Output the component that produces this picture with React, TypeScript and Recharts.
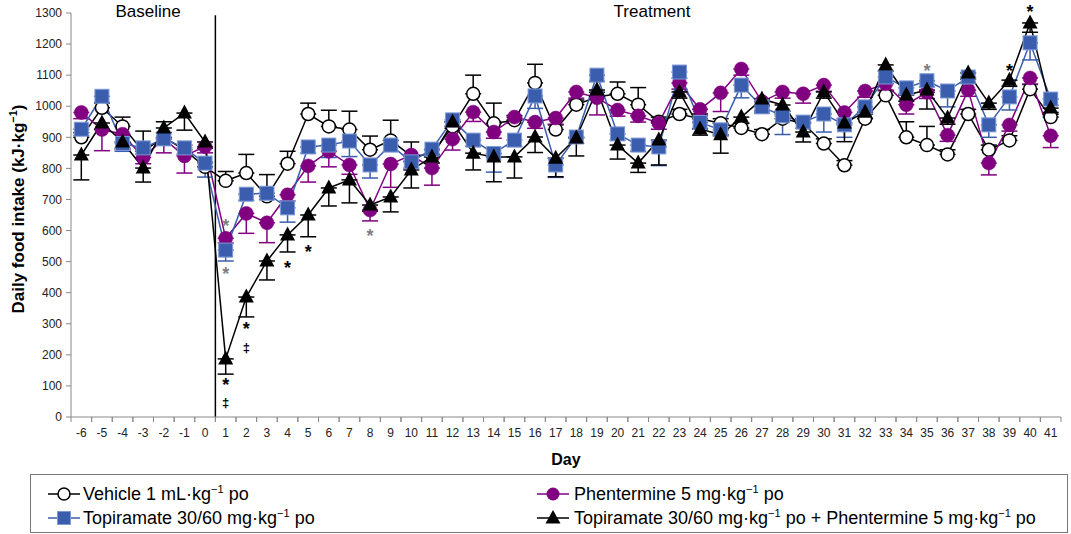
import React from 'react';
import { LineChart, Line, XAxis, YAxis, ErrorBar, ReferenceLine, ReferenceDot } from 'recharts';

// ---------------- data ----------------
const days = [-6, -5, -4, -3, -2, -1, 0, 1, 2, 3, 4, 5, 6, 7, 8, 9, 10, 11, 12, 13, 14, 15, 16, 17, 18, 19, 20, 21, 22, 23, 24, 25, 26, 27, 28, 29, 30, 31, 32, 33, 34, 35, 36, 37, 38, 39, 40, 41];

const vehicle = [900, 995, 935, 855, 900, 860, 805, 760, 785, 710, 815, 975, 935, 925, 860, 890, 840, 845, 935, 1040, 945, 955, 1075, 925, 1005, 1030, 1040, 1005, 950, 975, 960, 945, 930, 910, 960, 945, 880, 810, 960, 1035, 900, 875, 845, 975, 860, 890, 1055, 965];
const vehicleErr = [[0, 15], [0, 15], [0, 30], [0, 65], [0, 15], [0, 15], [0, 15], [0, 30], [0, 60], [0, 70], [0, 40], [0, 35], [0, 52], [0, 59], [0, 44], [0, 65], [0, 45], [0, 15], [0, 15], [0, 60], [0, 65], [0, 15], [0, 60], [0, 15], [0, 15], [0, 15], [0, 38], [0, 55], [0, 15], [0, 15], [0, 15], [0, 15], [0, 15], [0, 15], [0, 15], [0, 15], [0, 15], [0, 15], [0, 15], [0, 15], [0, 50], [0, 60], [0, 15], [0, 15], [0, 15], [0, 15], [0, 15], [0, 15]];

const phentermine = [980, 925, 910, 835, 895, 840, 870, 575, 655, 625, 715, 808, 855, 811, 666, 814, 843, 801, 894, 981, 917, 965, 949, 962, 1046, 1027, 988, 969, 946, 1075, 990, 1043, 1120, 1015, 1046, 1040, 1068, 980, 1049, 1072, 1005, 1045, 907, 1052, 817, 940, 1091, 905];
const phentermineErr = [[20, 0], [68, 0], [50, 0], [20, 0], [45, 0], [55, 0], [20, 0], [15, 0], [64, 0], [64, 0], [20, 0], [52, 0], [50, 0], [30, 0], [35, 0], [75, 0], [20, 0], [55, 0], [35, 0], [30, 0], [20, 0], [20, 0], [20, 0], [20, 0], [20, 0], [55, 0], [20, 0], [20, 0], [20, 0], [20, 0], [20, 0], [60, 0], [20, 0], [30, 0], [20, 0], [30, 0], [20, 0], [20, 0], [20, 0], [20, 0], [30, 0], [20, 0], [20, 0], [20, 0], [38, 0], [20, 0], [20, 0], [38, 0]];

const topiramate = [926, 1032, 880, 866, 895, 866, 817, 537, 717, 720, 673, 869, 875, 888, 811, 875, 821, 862, 956, 891, 848, 891, 1033, 811, 901, 1100, 911, 875, 869, 1110, 948, 924, 1068, 998, 969, 949, 975, 940, 998, 1094, 1059, 1082, 1049, 1094, 940, 1030, 1204, 1023];
const topiramateErr = [[20, 0], [20, 0], [25, 0], [20, 0], [20, 0], [20, 0], [45, 0], [35, 0], [20, 0], [20, 0], [46, 0], [20, 0], [40, 0], [50, 0], [42, 0], [20, 0], [20, 0], [20, 0], [20, 0], [20, 0], [60, 0], [20, 0], [40, 0], [40, 0], [20, 0], [20, 0], [20, 0], [20, 0], [60, 0], [20, 0], [20, 0], [20, 0], [41, 0], [20, 0], [60, 0], [20, 0], [58, 0], [40, 0], [20, 0], [20, 0], [20, 0], [20, 0], [51, 0], [20, 0], [40, 0], [42, 0], [55, 0], [20, 0]];

const combo = [843, 946, 885, 801, 930, 978, 885, 187, 386, 502, 586, 650, 737, 763, 682, 708, 795, 837, 949, 849, 837, 837, 901, 833, 898, 1052, 875, 817, 891, 1046, 927, 908, 965, 1023, 1004, 917, 1046, 946, 981, 1133, 1036, 1052, 962, 1107, 1010, 1084, 1268, 994];
const comboErr = [[80, 0], [20, 0], [20, 0], [45, 0], [0, 20], [55, 0], [20, 0], [49, 0], [64, 0], [61, 0], [55, 0], [70, 0], [58, 0], [74, 0], [20, 0], [48, 0], [58, 0], [20, 0], [20, 0], [54, 0], [80, 0], [68, 0], [50, 0], [60, 0], [58, 0], [20, 0], [45, 0], [30, 0], [80, 0], [20, 0], [20, 0], [59, 0], [20, 0], [20, 0], [20, 0], [32, 0], [20, 0], [60, 0], [20, 0], [20, 0], [20, 0], [61, 0], [20, 0], [20, 0], [20, 0], [20, 0], [30, 0], [20, 0]];

const yTicks = [0, 100, 200, 300, 400, 500, 600, 700, 800, 900, 1000, 1100, 1200, 1300];

// significance markers: day, value position (kJ/kg), symbol, colour
const annDays = [1, 1, 1, 1, 2, 2, 4, 5, 8, 35, 39, 40];
const annValues = [628, 473, 116, 42, 296, 222, 495, 544, 595, 1126, 1126, 1316];
const annSymbols = ['*', '*', '*', '‡', '*', '‡', '*', '*', '*', '*', '*', '*'];
const annColors = ['#808080', '#808080', '#000', '#000', '#000', '#000', '#000', '#000', '#808080', '#808080', '#000', '#000'];

const seriesNames = [
  'Vehicle 1 mL·kg',
  'Phentermine 5 mg·kg',
  'Topiramate 30/60 mg·kg',
  'Topiramate 30/60 mg·kg',
];

// ---------------- layout ----------------
const FONT = '"Liberation Sans", Arial, sans-serif';
const W = 1071;
const H = 470;
const MARGIN = { top: 13, right: 10, bottom: 0, left: 0 };
const Y_AXIS_W = 71;
const X_AXIS_H = 53;
const PLOT_BOTTOM = H - MARGIN.bottom - X_AXIS_H;
const HALF_BAND = (W - MARGIN.left - MARGIN.right - Y_AXIS_W) / days.length / 2;

const PURPLE = '#800080';
const BLUE = '#3a5dae';
const BLUE_EDGE = '#7f9ad6';
const AXIS_GREY = '#888';

const data = days.map((d, i) => ({
  day: d,
  vehicle: vehicle[i],
  vehicleErr: vehicleErr[i],
  phentermine: phentermine[i],
  phentermineErr: phentermineErr[i],
  topiramate: topiramate[i],
  topiramateErr: topiramateErr[i],
  combo: combo[i],
  comboErr: comboErr[i],
}));

// ---------------- markers ----------------
const OpenCircle = (p: any) => (
  <circle key={`v${p.index}`} cx={p.cx} cy={p.cy} r={6.5} fill="#fff" stroke="#000" strokeWidth={1.5} />
);
const PurpleCircle = (p: any) => (
  <circle key={`p${p.index}`} cx={p.cx} cy={p.cy} r={7} fill={PURPLE} stroke={PURPLE} strokeWidth={0.5} />
);
const BlueSquare = (p: any) => (
  <rect key={`t${p.index}`} x={p.cx - 7} y={p.cy - 7} width={14} height={14} fill={BLUE} stroke={BLUE_EDGE} strokeWidth={1} />
);
const Triangle = (p: any) => (
  <polygon
    key={`c${p.index}`}
    points={`${p.cx},${p.cy - 8.5} ${p.cx - 7.5},${p.cy + 5.5} ${p.cx + 7.5},${p.cy + 5.5}`}
    fill="#000"
  />
);

const XTick = (props: any) => {
  const { x, payload } = props;
  const y0 = PLOT_BOTTOM;
  return (
    <g>
      <line x1={x - HALF_BAND} x2={x - HALF_BAND} y1={y0} y2={y0 + 5} stroke={AXIS_GREY} />
      <line x1={x + HALF_BAND} x2={x + HALF_BAND} y1={y0} y2={y0 + 5} stroke={AXIS_GREY} />
      <text x={x} y={y0 + 11} dy="0.71em" textAnchor="middle" fontSize={12} fill="#222" fontFamily={FONT}>
        {payload.value}
      </text>
    </g>
  );
};

const YLabel = () => (
  <text
    x={24}
    y={209}
    transform="rotate(-90, 24, 209)"
    textAnchor="middle"
    fontSize={17}
    fontWeight="bold"
    fill="#000"
    fontFamily={FONT}
  >
    Daily food intake (kJ·kg
    <tspan dy={-7} fontSize={11}>−1</tspan>
    <tspan dy={7}>)</tspan>
  </text>
);

const legendIcon = (i: number, cx: number, cy: number) => {
  const line = <line x1={cx - 16} x2={cx + 16} y1={cy} y2={cy} stroke={i === 1 ? PURPLE : i === 2 ? BLUE : '#000'} strokeWidth={1.5} />;
  let mark;
  if (i === 0) mark = <circle cx={cx} cy={cy} r={6} fill="#fff" stroke="#000" strokeWidth={1.5} />;
  else if (i === 1) mark = <circle cx={cx} cy={cy} r={6.5} fill={PURPLE} />;
  else if (i === 2) mark = <rect x={cx - 6.5} y={cy - 6.5} width={13} height={13} fill={BLUE} stroke={BLUE_EDGE} />;
  else mark = <polygon points={`${cx},${cy - 8} ${cx - 7.5},${cy + 5.5} ${cx + 7.5},${cy + 5.5}`} fill="#000" />;
  return (
    <g key={`li${i}`}>
      {line}
      {mark}
    </g>
  );
};

const Overlay = () => {
  const cols = [64, 553];
  const textX = [83, 574];
  const rows = [494, 518];
  const pos = [
    [0, 0],
    [1, 0],
    [0, 1],
    [1, 1],
  ];
  return (
    <svg width={W} height={534} style={{ position: 'absolute', left: 0, top: 0, pointerEvents: 'none' }} fontFamily={FONT}>
      <text x={148} y={17} textAnchor="middle" fontSize={17} fill="#000">Baseline</text>
      <text x={652} y={17} textAnchor="middle" fontSize={17} fill="#000">Treatment</text>
      <rect x={30.5} y={474.5} width={1037} height={58} fill="none" stroke="#777" strokeWidth={1} />
      {seriesNames.map((name, i) => {
        const [c, r] = pos[i];
        const cy = rows[r];
        return (
          <g key={`leg${i}`}>
            {legendIcon(i, cols[c], cy)}
            <text x={textX[c]} y={cy + 6} fontSize={18} fill="#000">
              {name}
              <tspan dy={-7} fontSize={11}>−1</tspan>
              <tspan dy={7}>{i === 3 ? ' po + Phentermine 5 mg·kg' : ' po'}</tspan>
              {i === 3 ? <tspan dy={-7} fontSize={11}>−1</tspan> : null}
              {i === 3 ? <tspan dy={7}> po</tspan> : null}
            </text>
          </g>
        );
      })}
    </svg>
  );
};

export default function App() {
  return (
    <div style={{ position: 'absolute', left: 0, top: 0, width: W, height: 534, background: '#fff', fontFamily: FONT }}>
      <LineChart width={W} height={H} data={data} margin={MARGIN}>
        <XAxis
          dataKey="day"
          type="number"
          domain={[-6.5, 41.5]}
          ticks={days}
          interval={0}
          allowDataOverflow
          height={X_AXIS_H}
          stroke={AXIS_GREY}
          tickLine={false}
          tick={<XTick />}
          label={{ value: 'Day', position: 'insideBottom', offset: 5, fontSize: 16, fontWeight: 'bold', fill: '#000', fontFamily: FONT }}
        />
        <YAxis
          type="number"
          domain={[0, 1300]}
          ticks={yTicks}
          interval={0}
          width={Y_AXIS_W}
          stroke={AXIS_GREY}
          tickSize={5}
          tickMargin={4}
          tick={{ fontSize: 12, fill: '#222', fontFamily: FONT }}
          label={{ content: <YLabel /> }}
        />
        <ReferenceLine
          segment={[{ x: 0.5, y: 0 }, { x: 0.5, y: 1293 }]}
          stroke="#000"
          strokeWidth={1.5}
          ifOverflow="visible"
        />
        <Line dataKey="vehicle" type="linear" stroke="#000" strokeWidth={1.5} dot={OpenCircle} activeDot={false} isAnimationActive={false}>
          <ErrorBar dataKey="vehicleErr" direction="y" width={8} stroke="#000" strokeWidth={1.5} />
        </Line>
        <Line dataKey="phentermine" type="linear" stroke={PURPLE} strokeWidth={1.5} dot={PurpleCircle} activeDot={false} isAnimationActive={false}>
          <ErrorBar dataKey="phentermineErr" direction="y" width={8} stroke={PURPLE} strokeWidth={1.5} />
        </Line>
        <Line dataKey="topiramate" type="linear" stroke={BLUE} strokeWidth={1.5} dot={BlueSquare} activeDot={false} isAnimationActive={false}>
          <ErrorBar dataKey="topiramateErr" direction="y" width={8} stroke={BLUE} strokeWidth={1.5} />
        </Line>
        <Line dataKey="combo" type="linear" stroke="#000" strokeWidth={1.5} dot={Triangle} activeDot={false} isAnimationActive={false}>
          <ErrorBar dataKey="comboErr" direction="y" width={8} stroke="#000" strokeWidth={1.5} />
        </Line>
        {annDays.map((d, i) => (
          <ReferenceDot
            key={`ann${i}`}
            x={d}
            y={annValues[i]}
            r={0}
            ifOverflow="visible"
            shape={(p: any) => (
              <text
                x={p.cx}
                y={annSymbols[i] === '*' ? p.cy + 10.4 : p.cy + 3.5}
                textAnchor="middle"
                fontSize={annSymbols[i] === '*' ? 18 : 13}
                fontWeight="bold"
                fill={annColors[i]}
                fontFamily={FONT}
              >
                {annSymbols[i]}
              </text>
            )}
          />
        ))}
      </LineChart>
      <Overlay />
    </div>
  );
}
